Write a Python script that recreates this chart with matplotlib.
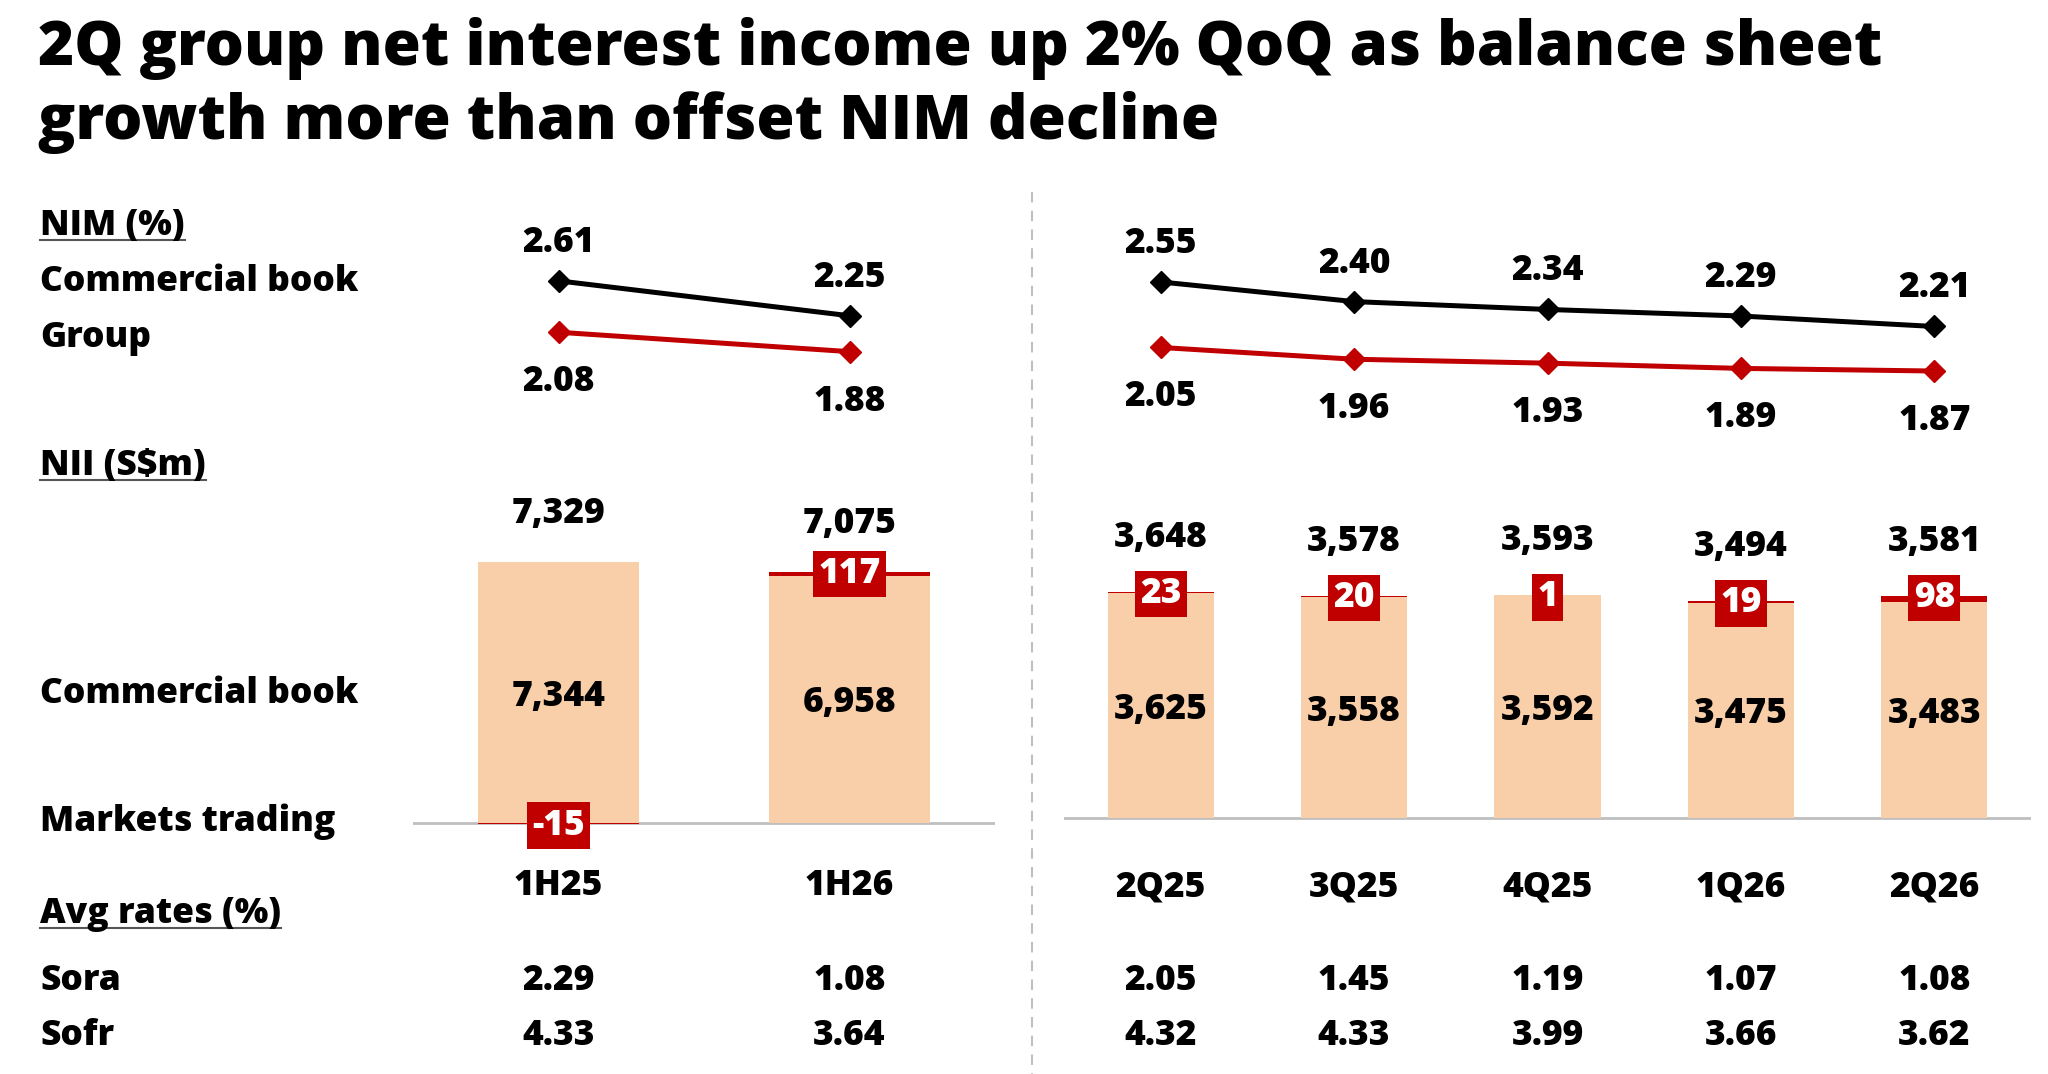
import numpy as np
import matplotlib.pyplot as plt
from matplotlib.lines import Line2D

plt.rcParams['font.family'] = ['Open Sans', 'DejaVu Sans']
plt.rcParams['font.weight'] = 'heavy'

W, H = 2048, 1074
red = '#C00000'
peach = '#F9CFA9'
grey = '#BFBFBF'
WT = 'heavy'
FS = 25.5
DY = 4  # mpl centres on the full line box, nudge text down a bit

# data
half_cats = ['1H25', '1H26']
half_nim_comm = [2.61, 2.25]
half_nim_group = [2.08, 1.88]
half_nii_total = [7329, 7075]
half_nii_comm = [7344, 6958]
half_nii_mkt = [-15, 117]
half_sora = ['2.29', '1.08']
half_sofr = ['4.33', '3.64']

q_cats = ['2Q25', '3Q25', '4Q25', '1Q26', '2Q26']
q_nim_comm = [2.55, 2.40, 2.34, 2.29, 2.21]
q_nim_group = [2.05, 1.96, 1.93, 1.89, 1.87]
q_nii_total = [3648, 3578, 3593, 3494, 3581]
q_nii_comm = [3625, 3558, 3592, 3475, 3483]
q_nii_mkt = [23, 20, 1, 19, 98]
q_sora = ['2.05', '1.45', '1.19', '1.07', '1.08']
q_sofr = ['4.32', '4.33', '3.99', '3.66', '3.62']

fig = plt.figure(figsize=(W / 100, H / 100), dpi=100)


def px_axes(x0, y0, x1, y1):
    ax = fig.add_axes([x0 / W, 1 - y1 / H, (x1 - x0) / W, (y1 - y0) / H])
    ax.axis('off')
    return ax


def ftext(x, y, s, **kw):
    kw.setdefault('fontsize', FS)
    kw.setdefault('fontweight', WT)
    return fig.text(x / W, 1 - (y + DY) / H, s, **kw)


# title
ftext(38, 44, '2Q group net interest income up 2% QoQ as balance sheet', fontsize=44.5, va='center')
ftext(38, 118, 'growth more than offset NIM decline', fontsize=44.5, va='center')

# row labels on the left
heads = []
heads.append(ftext(40, 222, 'NIM (%)', va='center'))
ftext(40, 278, 'Commercial book', va='center')
ftext(40, 334, 'Group', va='center')
heads.append(ftext(40, 462, 'NII (S$m)', va='center'))
ftext(40, 690, 'Commercial book', va='center')
ftext(40, 818, 'Markets trading', va='center')
heads.append(ftext(40, 910, 'Avg rates (%)', va='center'))
ftext(40, 977, 'Sora', va='center')
ftext(40, 1032, 'Sofr', va='center')

# dashed separator
fig.add_artist(Line2D([1032 / W, 1032 / W], [1 - 192 / H, 0], color=grey, lw=1.5,
                      ls=(0, (5, 4))))


def panel(x0, x1, cats, comm, group, nim_map, totals, nii_comm, mkt, nii_base, nii_scale,
          tot_off, sora, sofr, cat_y):
    n = len(cats)
    xs = np.arange(n)
    # NIM lines
    a, b = nim_map
    ax = px_axes(x0, 200, x1, 440)
    ax.set_xlim(-0.5, n - 0.5)
    ax.set_ylim((a - 440) / b, (a - 200) / b)
    ax.plot(xs, comm, color='black', lw=3.6, marker='D', ms=11)
    ax.plot(xs, group, color=red, lw=3.6, marker='D', ms=11)
    for i in range(n):
        ax.annotate(f'{comm[i]:.2f}', (i, comm[i]), xytext=(0, 42 - DY), textcoords='offset pixels',
                    ha='center', va='center', fontsize=FS, fontweight=WT)
        ax.annotate(f'{group[i]:.2f}', (i, group[i]), xytext=(0, -46 - DY), textcoords='offset pixels',
                    ha='center', va='center', fontsize=FS, fontweight=WT)
    # NII bars
    bx = px_axes(x0, 470, x1, 870)
    bx.set_xlim(-0.5, n - 0.5)
    bx.set_ylim((nii_base - 870) / nii_scale, (nii_base - 470) / nii_scale)
    bx.axhline(0, color=grey, lw=2, zorder=1)
    bx.bar(xs, nii_comm, width=0.55, color=peach, zorder=2)
    for i in range(n):
        bottom = nii_comm[i] if mkt[i] > 0 else 0
        bx.bar(i, mkt[i], bottom=bottom, width=0.55, color=red, zorder=3)
        top = max(nii_comm[i], totals[i])
        bx.annotate(f'{totals[i]:,}', (i, top), xytext=(0, tot_off - DY), textcoords='offset pixels',
                    ha='center', va='center', fontsize=FS, fontweight=WT)
        bx.annotate(f'{nii_comm[i]:,}', (i, nii_comm[i] / 2), xytext=(0, -DY),
                    textcoords='offset pixels', ha='center', va='center',
                    fontsize=FS, fontweight=WT, zorder=5)
        ypos = bottom + mkt[i]
        bx.annotate(f'{mkt[i]}', (i, ypos), xytext=(0, -2), textcoords='offset pixels',
                    ha='center', va='center', color='white',
                    fontsize=FS, fontweight=WT, zorder=6,
                    bbox=dict(boxstyle='square,pad=0.15', fc=red, ec='none'))
    # category and rates rows
    for i in range(n):
        xp = x0 + (x1 - x0) * (i + 0.5) / n
        ftext(xp, cat_y, cats[i], ha='center', va='center')
        ftext(xp, 977, sora[i], ha='center', va='center')
        ftext(xp, 1032, sofr[i], ha='center', va='center')


panel(413, 995, half_cats, half_nim_comm, half_nim_group, (534, 97), half_nii_total,
      half_nii_comm, half_nii_mkt, 823, 0.0355, 52, half_sora, half_sofr, 882)
panel(1064, 2031, q_cats, q_nim_comm, q_nim_group, (616, 131), q_nii_total,
      q_nii_comm, q_nii_mkt, 818, 0.062, 58, q_sora, q_sofr, 883)

# underline the section headings
fig.canvas.draw()
r = fig.canvas.get_renderer()
for t in heads:
    bb = t.get_window_extent(r)
    yl = bb.y0 + 4
    fig.add_artist(Line2D([bb.x0 / W, bb.x1 / W], [yl / H, yl / H], color='#555555', lw=1.5))

fig.savefig('out.png', dpi=100, facecolor='white')
